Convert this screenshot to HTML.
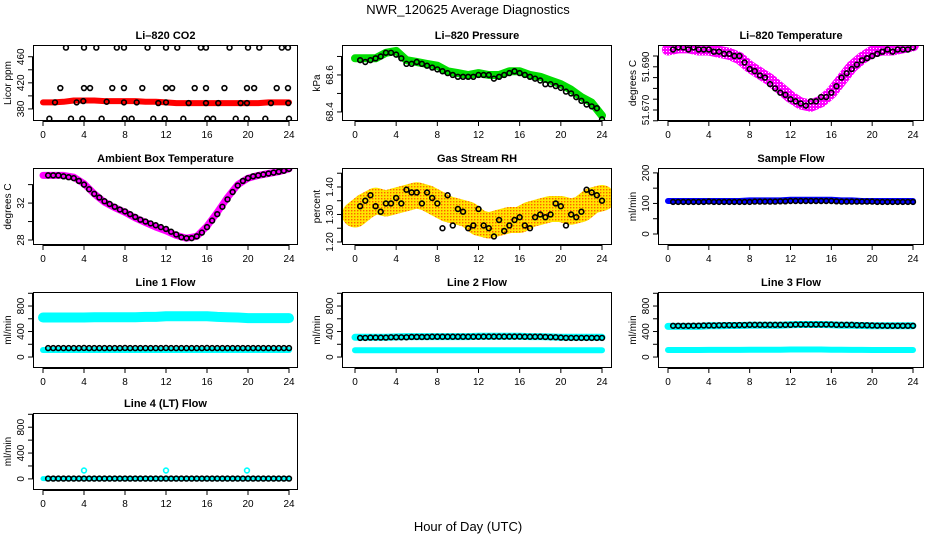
<!DOCTYPE html>
<html><head><meta charset="utf-8"><style>
html,body{margin:0;padding:0;background:#fff;}
svg{display:block;font-family:"Liberation Sans",sans-serif;}
</style></head><body>
<svg id="c" width="936" height="540" viewBox="0 0 936 540">
<defs>
<pattern id="rhdots" width="3" height="3" patternUnits="userSpaceOnUse"><rect width="3" height="3" fill="#ffe600"/><rect width="1.4" height="1.4" fill="#ff6000"/></pattern>
<pattern id="tdots" width="3" height="3" patternUnits="userSpaceOnUse"><rect width="3" height="3" fill="#ff00ff"/><rect width="1" height="1" fill="#fff"/></pattern>
</defs>
<text x="468" y="14" text-anchor="middle" font-size="13">NWR_120625  Average Diagnostics</text>
<text x="468" y="531" text-anchor="middle" font-size="13">Hour of Day (UTC)</text>
</svg>
<script>
const H48=[0.5,1,1.5,2,2.5,3,3.5,4,4.5,5,5.5,6,6.5,7,7.5,8,8.5,9,9.5,10,10.5,11,11.5,12,12.5,13,13.5,14,14.5,15,15.5,16,16.5,17,17.5,18,18.5,19,19.5,20,20.5,21,21.5,22,22.5,23,23.5,24];
const H25=[0,1,2,3,4,5,6,7,8,9,10,11,12,13,14,15,16,17,18,19,20,21,22,23,24];
const xTicks=[0,4,8,12,16,20,24];
// CO2
const co2Band=[390,390,391,393,393,393,392,392,392,392,391,391,390,389,389,389,389,389,389,389,389,389,390,390,390];
const co2Hours=[2.24,4.0,5.2,7.2,7.9,10.2,12.0,13.1,15.4,15.9,18.2,20.0,21.1,23.3,23.9,1.69,4.0,4.59,6.76,7.9,9.69,12.0,12.6,14.8,15.9,17.7,19.9,20.6,22.8,23.9,1.17,3.28,3.93,6.21,7.9,9.14,11.25,12.0,14.21,15.9,17.1,19.28,19.9,22.24,23.93,0.62,2.73,3.84,5.72,7.97,8.65,10.76,11.87,13.69,16.03,16.6,18.8,19.87,21.69,24.0];
const co2Vals=[474,474,474,474,474,474,474,474,474,474,474,474,474,474,474,412,412,412,412,412,412,412,412,412,412,412,412,412,412,412,390,390,392,391,390,390,389,390,389,389,389,389,389,389,389,365,365,365,365,365,365,365,365,365,365,365,365,365,365,365];
// Pressure
const presBand=[68.69,68.69,68.69,68.72,68.73,68.68,68.67,68.66,68.65,68.62,68.61,68.60,68.61,68.60,68.60,68.62,68.62,68.60,68.59,68.57,68.55,68.52,68.48,68.45,68.38];
const presPts=[68.68,68.67,68.68,68.69,68.70,68.72,68.72,68.71,68.69,68.66,68.66,68.67,68.66,68.65,68.64,68.63,68.62,68.61,68.60,68.59,68.59,68.59,68.59,68.60,68.60,68.60,68.58,68.59,68.60,68.61,68.62,68.61,68.60,68.59,68.58,68.57,68.55,68.55,68.54,68.53,68.51,68.50,68.48,68.46,68.44,68.43,68.42,68.36];
// Li-820 temperature
const tempBand=[51.698,51.699,51.699,51.698,51.698,51.697,51.696,51.694,51.690,51.687,51.684,51.680,51.676,51.673,51.672,51.674,51.678,51.684,51.690,51.694,51.697,51.698,51.698,51.699,51.700];
const tempPts=[51.698,51.699,51.699,51.698,51.699,51.698,51.698,51.698,51.697,51.697,51.696,51.696,51.695,51.695,51.692,51.689,51.688,51.686,51.685,51.682,51.680,51.678,51.677,51.675,51.674,51.673,51.672,51.674,51.674,51.676,51.676,51.678,51.681,51.685,51.687,51.689,51.691,51.693,51.694,51.695,51.696,51.697,51.698,51.697,51.698,51.698,51.698,51.699];
// Ambient
const ambBand=[35.0,35.0,35.0,34.8,34.1,33.0,32.1,31.5,31.0,30.4,29.9,29.4,29.0,28.5,28.2,28.4,29.5,31.0,32.6,34.0,34.7,35.0,35.2,35.4,35.7];
const ambPts=[35.0,35.0,35.0,34.9,34.8,34.7,34.4,34.0,33.5,33.0,32.6,32.2,31.9,31.6,31.3,31.1,30.8,30.5,30.2,30.0,29.8,29.6,29.4,29.2,28.9,28.6,28.3,28.2,28.2,28.4,28.8,29.4,30.1,30.8,31.6,32.4,33.2,33.9,34.4,34.7,34.9,35.0,35.1,35.2,35.3,35.4,35.5,35.7];
// RH
const rhBand=[1.30,1.33,1.35,1.34,1.35,1.36,1.37,1.36,1.34,1.32,1.31,1.30,1.27,1.26,1.27,1.28,1.28,1.30,1.31,1.32,1.32,1.31,1.32,1.35,1.36];
const rhPts=[1.33,1.35,1.37,1.33,1.31,1.34,1.34,1.36,1.34,1.39,1.38,1.38,1.34,1.38,1.36,1.34,1.25,1.37,1.26,1.32,1.31,1.25,1.26,1.32,1.26,1.25,1.22,1.28,1.24,1.26,1.28,1.29,1.26,1.25,1.29,1.30,1.29,1.30,1.34,1.33,1.26,1.30,1.29,1.31,1.39,1.38,1.37,1.35];
// Flows
const sampBand=[108,108,108,108,108,108,108,108,110,110,110,110,112,112,112,112,112,110,110,108,108,108,108,108,108];
const sampPts=[105,105,105,105,105,105,105,106,105,105,105,105,105,105,105,105,106,106,106,106,106,107,107,108,108,108,108,108,108,108,108,108,107,106,106,106,106,106,106,106,105,105,105,105,105,105,105,105];
const l1High=[620,620,620,620,620,625,625,625,625,625,630,630,640,640,640,640,640,630,625,620,610,610,610,610,610];
const l1Low=[110,110,110,110,110,110,110,110,110,110,110,110,110,110,110,110,110,110,110,110,110,110,110,110,110];
const l1Pts=[140,140,140,140,140,140,140,142,140,140,140,140,140,140,140,142,140,140,140,140,140,140,140,142,140,140,140,140,140,140,140,142,140,140,140,140,140,140,140,140,140,140,140,140,140,140,140,140];
const l2High=[310,310,310,310,315,320,320,320,320,320,320,320,325,325,325,325,325,320,320,315,310,310,310,310,310];
const l2Low=[105,105,105,105,105,105,105,105,105,105,105,105,105,105,105,105,105,105,105,105,105,105,105,105,105];
const l2Pts=[300,300,305,305,305,305,310,310,310,310,315,315,315,315,318,318,318,318,318,318,318,318,318,318,320,320,320,320,320,320,320,320,318,318,318,318,315,312,310,305,300,300,300,300,300,300,300,300];
const l3High=[480,480,480,480,490,490,495,495,500,500,500,500,505,510,510,510,505,500,500,495,490,490,490,490,490];
const l3Low=[110,110,110,110,112,112,112,112,115,115,115,115,118,118,118,118,115,115,112,112,110,110,110,110,110];
const l3Pts=[490,490,490,490,492,492,495,495,495,498,500,500,500,502,502,505,505,505,505,505,505,505,505,505,510,510,510,510,510,510,510,510,505,505,505,505,500,500,498,495,492,492,490,490,490,490,490,490];
const l4Low=[5,5,5,5,5,5,5,5,5,5,5,5,5,5,5,5,5,5,5,5,5,5,5,5,5];
const l4SpikeH=[4,12,19.9];
const l4SpikeV=[130,130,130];
const l4Pts=[5,5,5,5,5,5,5,5,5,5,5,5,5,5,5,5,5,5,5,5,5,5,5,5,5,5,5,5,5,5,5,5,5,5,5,5,5,5,5,5,5,5,5,5,5,5,5,5];

const NS='http://www.w3.org/2000/svg';
const svg=document.getElementById('c');
function mk(tag,attrs,parent){const e=document.createElementNS(NS,tag);for(const k in attrs)e.setAttribute(k,attrs[k]);(parent||svg).appendChild(e);return e;}
const cols=[{l:33,r:298,x0:43,x1:289},{l:342,r:612,x0:355,x1:602},{l:658,r:924,x0:668,x1:913}];
const rows=[{t:45,b:121},{t:168,b:245},{t:292,b:368},{t:413,b:490}];

function panel(name,title,ci,ri,ymin,ymax,ticks,labels,ytitle){
  const c=cols[ci],r=rows[ri];
  const g=mk('g',{});
  
  
  const xs=h=>c.x0+(c.x1-c.x0)*h/24;
  const ys=v=>r.b-(v-ymin)/(ymax-ymin)*(r.b-r.t);
  const t=mk('text',{x:(c.l+c.r)/2,y:r.t-6,'text-anchor':'middle','font-size':'11','font-weight':'bold'},g);t.textContent=title;
  
  
  const ax=mk('g',{stroke:'#000','stroke-width':1,fill:'none'},g);
  
  
  mk('line',{x1:xs(0),x2:xs(24),y1:r.b+0.5,y2:r.b+0.5},ax);
  xTicks.forEach(h=>{mk('line',{x1:xs(h),x2:xs(h),y1:r.b,y2:r.b+5},ax);
    const tt=mk('text',{x:xs(h),y:r.b+17,'text-anchor':'middle','font-size':'10',fill:'#000',stroke:'none'},g);tt.textContent=h;
    
    });
  const ay=mk('g',{stroke:'#000','stroke-width':1},g);
  
  
  mk('line',{x1:c.l-0.5,x2:c.l-0.5,y1:ys(ticks[0]),y2:ys(ticks[ticks.length-1])},ay);
  ticks.forEach(v=>mk('line',{x1:c.l-5,x2:c.l,y1:ys(v),y2:ys(v)},ay));
  labels.forEach(s=>{const y=ys(parseFloat(s));const tt=mk('text',{x:c.l-9,y:y,'text-anchor':'middle','font-size':'10',transform:`rotate(-90 ${c.l-9} ${y})`},g);tt.textContent=s;
    
    });
  const yt=mk('text',{x:c.l-22,y:(r.t+r.b)/2,'text-anchor':'middle','font-size':'10',transform:`rotate(-90 ${c.l-22} ${(r.t+r.b)/2})`},g);yt.textContent=ytitle;
  
  
  const clip='clip'+name;const cp=mk('clipPath',{id:clip},g);mk('rect',{x:c.l,y:r.t,width:c.r-c.l,height:r.b-r.t},cp);
  const plot=mk('g',{'clip-path':`url(#${clip})`},g);
  const box=mk('rect',{x:c.l+0.5,y:r.t+0.5,width:c.r-c.l-1,height:r.b-r.t-1,fill:'none',stroke:'#000'},g);
  
  
  return {xs,ys,plot,g,box};
}
function band(p,hours,vals,color,w,name){
  const d=hours.map((h,i)=>(i?'L':'M')+p.xs(h).toFixed(1)+' '+p.ys(vals[i]).toFixed(1)).join(' ');
  const e=mk('path',{d:d,fill:'none',stroke:color,'stroke-width':w,'stroke-linejoin':'round','stroke-linecap':'round'},p.plot);
  
  
}
function pts(p,hours,vals,color,name){
  const g=mk('g',{fill:'none',stroke:color,'stroke-width':1.6},p.plot);
  
  
  hours.forEach((h,i)=>{const c=mk('circle',{cx:p.xs(h),cy:p.ys(vals[i]),r:2.4},g);
    
    });
}
let p;
p=panel('co2-panel','Li\u2013820 CO2',0,0,361.5,478,[380,400,420,440,460],['380','420','460'],'Licor ppm');
band(p,H25,co2Band,'#ff0000',6,'co2-band');pts(p,co2Hours,co2Vals,'#000','co2-points');
p=panel('pressure-panel','Li\u2013820 Pressure',1,0,68.351,68.762,[68.4,68.5,68.6,68.7],['68.4','68.6'],'kPa');
band(p,H25,presBand,'#00dd00',8,'pressure-band');pts(p,H48,presPts,'#000','pressure-points');
p=panel('li820-temp-panel','Li\u2013820 Temperature',2,0,51.6649,51.7001,[51.665,51.670,51.675,51.680,51.685,51.690,51.695],['51.670','51.690'],'degrees C');
band(p,H25,tempBand,'url(#tdots)',12,'temp-band');pts(p,H48,tempPts,'#000','temp-points');
p=panel('ambient-panel','Ambient Box Temperature',0,1,27.46,35.8,[28,30,32,34],['28','32'],'degrees C');
band(p,H25,ambBand,'#ff00ff',7,'ambient-band');pts(p,H48,ambPts,'#000','ambient-points');
p=panel('rh-panel','Gas Stream RH',1,1,1.189,1.469,[1.20,1.25,1.30,1.35,1.40,1.45],['1.20','1.30','1.40'],'percent');
band(p,H25,rhBand,'url(#rhdots)',26,'rh-band');pts(p,H48,rhPts,'#000','rh-points');
p=panel('sample-flow-panel','Sample Flow',2,1,-36,216,[0,50,100,150,200],['0','100','200'],'ml/min');
band(p,H25,sampBand,'#0000ff',6,'sample-band');pts(p,H48,sampPts,'#000','sample-points');
p=panel('line1-panel','Line 1 Flow',0,2,-172,1020,[0,200,400,600,800,1000],['0','400','800'],'ml/min');
band(p,H25,l1High,'#00ffff',10,'line1-high');band(p,H25,l1Low,'#00ffff',6,'line1-low');pts(p,H48,l1Pts,'#000','line1-points');
p=panel('line2-panel','Line 2 Flow',1,2,-172,1020,[0,200,400,600,800,1000],['0','400','800'],'ml/min');
band(p,H25,l2High,'#00ffff',7,'line2-high');band(p,H25,l2Low,'#00ffff',6,'line2-low');pts(p,H48,l2Pts,'#000','line2-points');
p=panel('line3-panel','Line 3 Flow',2,2,-172,1020,[0,200,400,600,800,1000],['0','400','800'],'ml/min');
band(p,H25,l3High,'#00ffff',7,'line3-high');band(p,H25,l3Low,'#00ffff',6,'line3-low');pts(p,H48,l3Pts,'#000','line3-points');
p=panel('line4-panel','Line 4 (LT) Flow',0,3,-172,1020,[0,200,400,600,800,1000],['0','400','800'],'ml/min');
band(p,H25,l4Low,'#00ffff',5,'line4-low');pts(p,l4SpikeH,l4SpikeV,'#00ffff','line4-spikes');pts(p,H48,l4Pts,'#000','line4-points');
</script>
</body></html>
